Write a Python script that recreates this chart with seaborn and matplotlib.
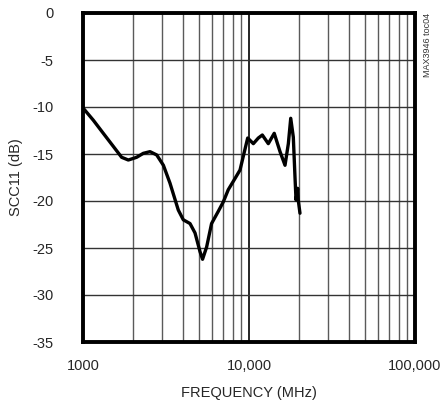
import matplotlib
matplotlib.use("Agg")
import matplotlib.pyplot as plt
import matplotlib.ticker as mticker
import seaborn as sns
import pandas as pd

freq_mhz = [1000, 1153, 1325, 1524, 1709, 1875, 2105, 2307, 2533, 2780, 3050,
            3342, 3750, 4020, 4413, 4730, 5070, 5250, 5555, 5950, 6530, 7000,
            7500, 8240, 8830, 9250, 9820, 10620, 11380, 12030, 13070, 14190,
            15380, 16480, 17260, 17840, 18490, 18920, 19200, 19650, 19800, 20280]
scc11_db = [-10.1, -11.4, -12.8, -14.2, -15.35, -15.64, -15.35, -14.93, -14.75,
            -15.1, -16.2, -18.1, -20.96, -22.0, -22.4, -23.4, -25.4, -26.2,
            -24.9, -22.4, -21.1, -20.1, -18.8, -17.6, -16.7, -15.2, -13.3,
            -13.9, -13.3, -12.98, -13.9, -12.8, -14.75, -16.2, -13.9, -11.2,
            -13.2, -17.4, -19.9, -18.65, -19.9, -21.3]

x_ticks = [1000, 10000, 100000]
x_tick_labels = ["1000", "10,000", "100,000"]
y_ticks = [0, -5, -10, -15, -20, -25, -30, -35]
y_tick_labels = ["0", "-5", "-10", "-15", "-20", "-25", "-30", "-35"]

sns.set_theme(style="white")
plt.rcParams["font.family"] = ["Liberation Sans", "DejaVu Sans"]

df = pd.DataFrame({"freq": freq_mhz, "db": scc11_db})

fig = plt.figure(figsize=(4.4, 4.05), dpi=100)
ax = fig.add_axes([83/440, 63/405, 332/440, 329/405])

ax.set_xscale("log")
ax.set_xlim(1000, 100000)
ax.set_ylim(-35, 0)

ax.xaxis.set_minor_locator(mticker.LogLocator(base=10, subs=range(2, 10)))
ax.xaxis.set_minor_formatter(mticker.NullFormatter())
ax.set_xticks(x_ticks)
ax.set_xticklabels(x_tick_labels)
ax.set_yticks(y_ticks)
ax.set_yticklabels(y_tick_labels)

ax.grid(True, which="major", axis="x", color="black", linewidth=1.2)
ax.grid(True, which="minor", axis="x", color="#5a5a5a", linewidth=1.0)
ax.grid(True, which="major", axis="y", color="#333333", linewidth=1.0)
ax.set_axisbelow(True)

sns.lineplot(data=df, x="freq", y="db", ax=ax, color="black", linewidth=2.4,
             sort=False, estimator=None, solid_joinstyle="round",
             solid_capstyle="round")

for s in ax.spines.values():
    s.set_visible(True)
    s.set_color("black")
    s.set_linewidth(2.8)

txt_color = "#262626"
ax.tick_params(axis="both", which="both", length=0, labelsize=10.5, colors=txt_color)
ax.tick_params(axis="y", pad=21)
ax.tick_params(axis="x", pad=12)

ax.set_xlabel("FREQUENCY (MHz)", fontsize=10.5, color=txt_color)
ax.set_ylabel("SCC11 (dB)", fontsize=10.5, color=txt_color)
ax.xaxis.label.set_va("center")
ax.yaxis.label.set_va("center")
ax.xaxis.set_label_coords(0.5, (12 - 63) / 329)
ax.yaxis.set_label_coords((16 - 83) / 332, 0.5)

fig.text(427/440, 1 - 13/405, "MAX3946 toc04", rotation=90, ha="center", va="top",
         fontsize=6.5, color="#333333")

fig.savefig("out.png", dpi=100)
